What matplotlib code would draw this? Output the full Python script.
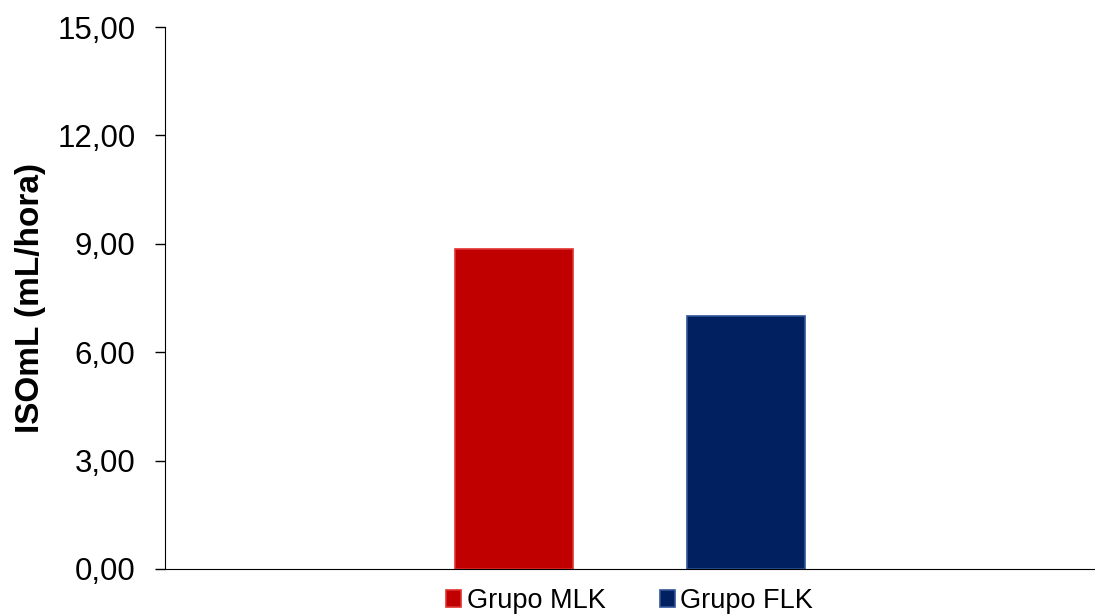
import numpy as np
import matplotlib.pyplot as plt

plt.rcParams['font.family'] = ['Liberation Sans', 'DejaVu Sans']

# ISOmL by group
groups = ["Grupo MLK", "Grupo FLK"]
values = [8.86, 7.00]
face_colors = ["#C00000", "#002060"]
edge_colors = ["#E03030", "#2F5597"]
yticks = [0, 3, 6, 9, 12, 15]

fig = plt.figure(figsize=(10.95, 6.14), dpi=100)
ax = fig.add_axes([0.1507, 0.0733, 0.8493, 0.8827])

width = 0.127
offsets = [-0.125, 0.125]
for name, val, off, fc, ec in zip(groups, values, offsets, face_colors, edge_colors):
    ax.bar(off, val, width=width, color=fc, edgecolor=ec, linewidth=1.2, label=name)

ax.set_xlim(-0.5, 0.5)
ax.set_ylim(0, 15)
ax.set_yticks(yticks)
ax.set_yticklabels([f"{t:.2f}".replace(".", ",") for t in yticks], fontsize=22.5)
ax.set_xticks([])
ax.tick_params(axis="y", direction="out", length=7.2, width=1, pad=14)
ax.spines["top"].set_visible(False)
ax.spines["right"].set_visible(False)
ax.set_ylabel("ISOmL (mL/hora)", fontsize=24, fontweight="bold", labelpad=8)

fig.legend(loc="center", bbox_to_anchor=(0.575, 0.021), ncol=2, frameon=False,
           fontsize=19.5, handlelength=0.55, handleheight=0.55, handletextpad=0.2,
           columnspacing=2.0, borderpad=0)

fig.savefig("out.png", dpi=100)
